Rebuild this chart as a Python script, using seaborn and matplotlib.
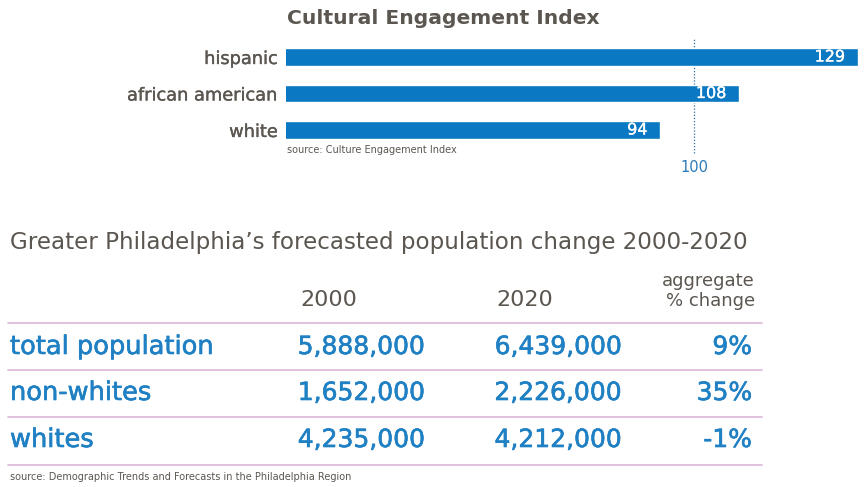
import matplotlib
matplotlib.use("Agg")
import matplotlib.pyplot as plt
import matplotlib.patheffects as pe
import seaborn as sns
import pandas as pd

# Cultural Engagement Index by group
groups = ["hispanic", "african american", "white"]
index_values = [129, 108, 94]
reference_index = 100

# Population forecast table
row_labels = ["total population", "non-whites", "whites"]
pop_2000 = [5888000, 1652000, 4235000]
pop_2020 = [6439000, 2226000, 4212000]
pct_change = [9, 35, -1]
col_headers = ["2000", "2020", "aggregate\n% change"]

BLUE = "#0a78c2"
TEXT_BLUE = "#1f80c3"
GRAY = "#5b5650"
RULE = "#dcb8da"
FONT = ["DejaVu Sans"]

sns.set_theme(style="white")
plt.rcParams["font.family"] = FONT

W, H = 866, 487
fig = plt.figure(figsize=(W / 100, H / 100), dpi=100)
fig.patch.set_facecolor("white")


def fx(px):
    return px / W


def fy(py):
    return 1 - py / H


def medium(color, lw=0.4):
    # thicken regular strokes slightly to get a medium weight
    return [pe.withStroke(linewidth=lw, foreground=color)]


# ---- bar chart ----
bar_top, bar_bottom = 38.75, 148.25
ax = fig.add_axes([fx(286), fy(bar_bottom), fx(866 - 286), (bar_bottom - bar_top) / H])
df = pd.DataFrame({"group": groups, "index": index_values})
sns.barplot(data=df, x="index", y="group", orient="h", color=BLUE,
            width=0.49, saturation=1, ax=ax)
ax.set_xlim(27.7, 130.4)
ax.set_ylim(2.5, -0.5)
ax.set_xlabel("")
ax.set_ylabel("")
ax.set_xticks([])
for s in ax.spines.values():
    s.set_visible(False)
ax.tick_params(axis="y", length=0, pad=6, labelsize=12.8, labelcolor=GRAY)
for lbl in ax.get_yticklabels():
    lbl.set_path_effects(medium(GRAY, 0.25))

for i, v in enumerate(index_values):
    ax.text(v - 2.3, i, f"{v}", ha="right", va="center", color="white",
            fontsize=11.5, path_effects=medium("white", 0.25))

ax.axvline(reference_index, ymin=-0.04, ymax=1.0, color="#2a6aa6",
           linestyle=(0, (1, 1.5)), linewidth=0.9, clip_on=False, zorder=0)
fig.text(ax.transData.transform((reference_index, 0))[0] / W, fy(168),
         f"{reference_index}", ha="center", va="center",
         color="#2a7ab8", fontsize=10.5)

fig.text(fx(287), fy(18), "Cultural Engagement Index", ha="left", va="center",
         fontsize=14.6, color=GRAY, fontweight="bold")
fig.text(fx(287), fy(150), "source: Culture Engagement Index", ha="left",
         va="center", fontsize=7, color=GRAY)

# ---- population table ----
tab = fig.add_axes([0, 0, 1, 1], zorder=-1)
tab.set_xlim(0, W)
tab.set_ylim(H, 0)
tab.axis("off")

tab.text(10, 242, "Greater Philadelphia\u2019s forecasted population change 2000-2020",
         ha="left", va="center", fontsize=16.6, color=GRAY)

col_x = [329, 525, 755]
tab.text(col_x[0], 300, col_headers[0], ha="center", va="center", fontsize=16, color=GRAY)
tab.text(col_x[1], 300, col_headers[1], ha="center", va="center", fontsize=16, color=GRAY)
tab.text(col_x[2], 291, col_headers[2], ha="right", va="center", fontsize=13,
         color=GRAY, linespacing=1.1)

row_y = [347, 393, 440]
rule_y = [323, 370, 417, 465]
for y in rule_y:
    tab.plot([8, 762], [y, y], color=RULE, linewidth=1.2)

for i, y in enumerate(row_y):
    kw = dict(va="center", fontsize=18, color=TEXT_BLUE,
              path_effects=medium(TEXT_BLUE, 0.45))
    tab.text(10, y, row_labels[i], ha="left", **{**kw, "fontsize": 18.5})
    tab.text(425, y, f"{pop_2000[i]:,}", ha="right", **kw)
    tab.text(622, y, f"{pop_2020[i]:,}", ha="right", **kw)
    tab.text(752, y, f"{pct_change[i]}%", ha="right", **kw)

tab.text(10, 477, "source: Demographic Trends and Forecasts in the Philadelphia Region",
         ha="left", va="center", fontsize=7, color=GRAY)

fig.savefig("out.png", dpi=100)
